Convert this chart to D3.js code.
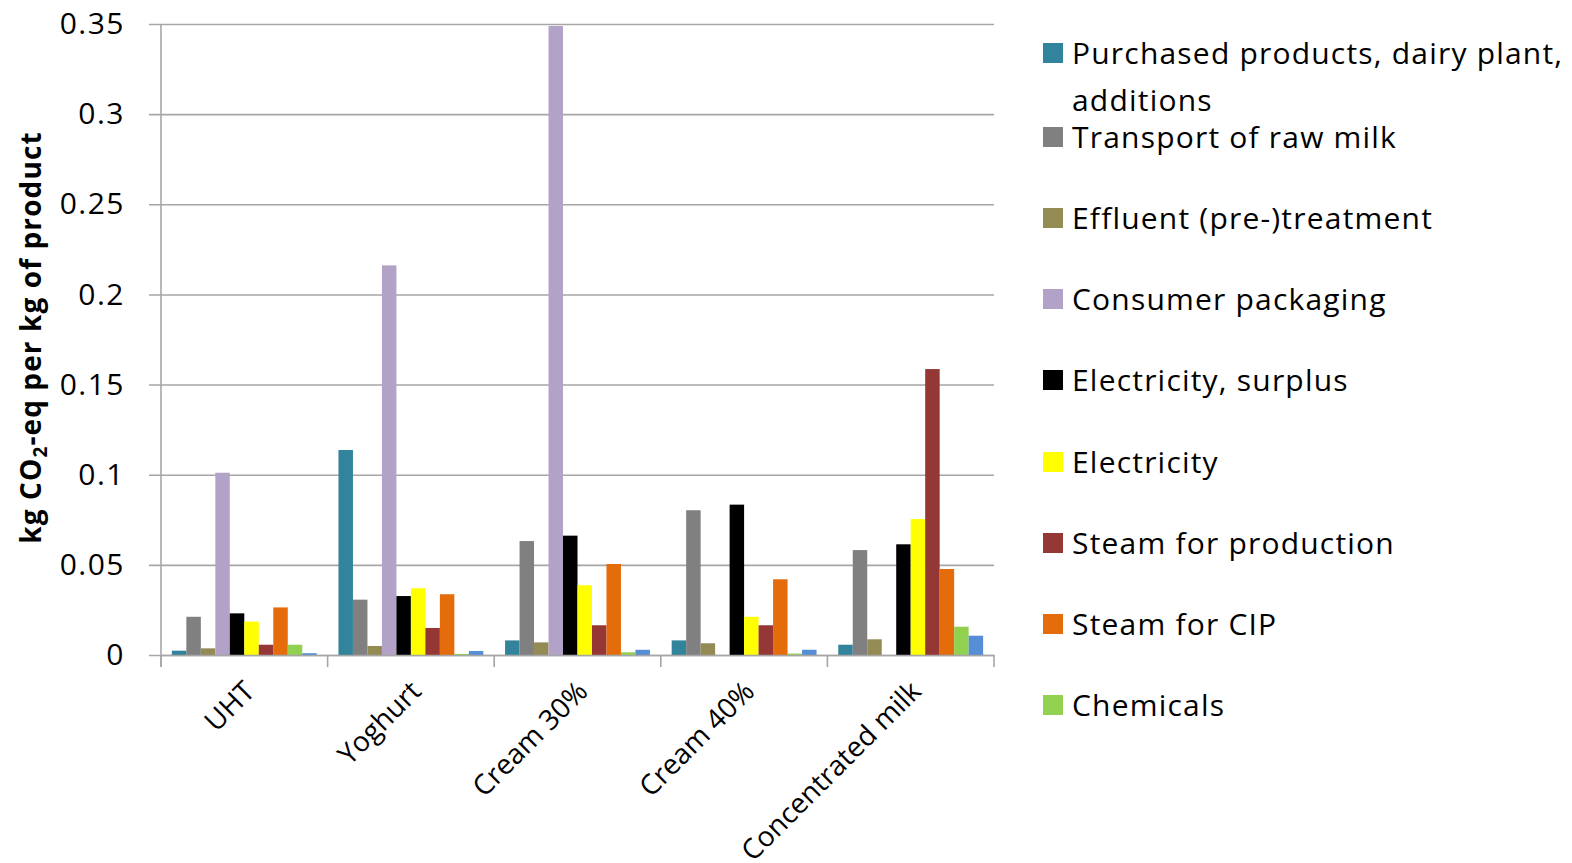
<!DOCTYPE html>
<html>
<head>
<meta charset="utf-8">
<script src="https://cdn.jsdelivr.net/npm/d3@7"></script>
<style>
  html, body { margin: 0; padding: 0; background: #fff; }
  svg { display: block; }
  text { font-family: "Open Sans", Lato, sans-serif; fill: #000; }
</style>
</head>
<body>
<svg id="chart" width="1572" height="863"></svg>
<script>
// Product categories along the x axis
const categories = ["UHT", "Yoghurt", "Cream 30%", "Cream 40%", "Concentrated milk"];

// Emission sources (series), in drawing order
const seriesNames = [
  "Purchased products, dairy plant, additions",
  "Transport of raw milk",
  "Effluent (pre-)treatment",
  "Consumer packaging",
  "Electricity, surplus",
  "Electricity",
  "Steam for production",
  "Steam for CIP",
  "Chemicals",
  "Other"
];

const seriesColors = [
  "#31849B", "#808080", "#948A54", "#B3A2C7", "#000000",
  "#FFFF00", "#953735", "#E46C0A", "#92D050", "#558ED5"
];

// kg CO2-eq per kg of product, one array per series (UHT, Yoghurt, Cream 30%, Cream 40%, Concentrated milk)
const purchased   = [0.0024, 0.1137, 0.0081, 0.0081, 0.0057];
const transport   = [0.0212, 0.0307, 0.0632, 0.0803, 0.0582];
const effluent    = [0.0037, 0.0050, 0.0070, 0.0065, 0.0087];
const packaging   = [0.1011, 0.2161, 0.3489, 0.0000, 0.0000];
const elecSurplus = [0.0231, 0.0327, 0.0662, 0.0834, 0.0614];
const electricity = [0.0185, 0.0370, 0.0387, 0.0212, 0.0754];
const steamProd   = [0.0057, 0.0150, 0.0165, 0.0165, 0.1586];
const steamCIP    = [0.0264, 0.0337, 0.0505, 0.0420, 0.0477];
const chemicals   = [0.0057, 0.0006, 0.0015, 0.0008, 0.0157];
const other       = [0.0010, 0.0022, 0.0029, 0.0029, 0.0107];

const seriesValues = [purchased, transport, effluent, packaging, elecSurplus,
                      electricity, steamProd, steamCIP, chemicals, other];

// Y axis ticks
const yTicks = [0, 0.05, 0.1, 0.15, 0.2, 0.25, 0.3, 0.35];
const yTickLabels = ["0", "0.05", "0.1", "0.15", "0.2", "0.25", "0.3", "0.35"];

// Legend entries (the last series has no legend entry)
const legendLabels = [
  ["Purchased products, dairy plant,", "additions"],
  ["Transport of raw milk"],
  ["Effluent (pre-)treatment"],
  ["Consumer packaging"],
  ["Electricity, surplus"],
  ["Electricity"],
  ["Steam for production"],
  ["Steam for CIP"],
  ["Chemicals"]
];

const svg = d3.select("#chart");
const plot = { left: 161, right: 994, top: 24, bottom: 655 };
const gridColor = "#A6A6A6";

const x0 = d3.scaleBand().domain(categories).range([plot.left, plot.right])
  .paddingInner(0).paddingOuter(0);
const x1 = d3.scaleBand().domain(d3.range(seriesNames.length))
  .range([0, x0.bandwidth()]).paddingInner(0).paddingOuter(0.75);
const y = d3.scaleLinear().domain([0, 0.35]).range([plot.bottom, plot.top]);

// Horizontal gridlines with short outside ticks
const yAxis = d3.axisLeft(y).tickValues(yTicks)
  .tickFormat((d, i) => yTickLabels[i])
  .tickSize(-(plot.right - plot.left)).tickSizeOuter(0).tickPadding(36);
const gy = svg.append("g").attr("transform", `translate(${plot.left},0)`).call(yAxis);
gy.select(".domain").remove();
gy.selectAll(".tick line").attr("x1", -12).attr("stroke", gridColor).attr("stroke-width", 1.6);
gy.selectAll(".tick text")
  .attr("font-size", 30).attr("font-family", "Open Sans")
  .attr("letter-spacing", 1.5).attr("fill", "#000");

// Vertical axis line
svg.append("line")
  .attr("x1", plot.left).attr("x2", plot.left)
  .attr("y1", plot.top).attr("y2", plot.bottom + 12)
  .attr("stroke", gridColor).attr("stroke-width", 1.6);

// Bars
const groups = svg.append("g").selectAll("g")
  .data(categories)
  .join("g")
  .attr("transform", d => `translate(${x0(d)},0)`);

groups.selectAll("rect")
  .data((c, ci) => seriesValues.map((vals, si) => ({ si, v: vals[ci] })))
  .join("rect")
  .attr("x", d => x1(d.si))
  .attr("width", x1.bandwidth())
  .attr("y", d => y(d.v))
  .attr("height", d => y(0) - y(d.v))
  .attr("fill", d => seriesColors[d.si]);

// Category axis with ticks between groups
const xAxis = d3.axisBottom(x0).tickSize(0).tickFormat("");
const gx = svg.append("g").attr("transform", `translate(0,${plot.bottom})`).call(xAxis);
gx.select(".domain").attr("stroke", gridColor).attr("stroke-width", 1.6);
const boundaries = categories.map(c => x0(c)).concat([x0(categories[categories.length - 1]) + x0.bandwidth()]);
svg.append("g").selectAll("line")
  .data(boundaries)
  .join("line")
  .attr("x1", d => d).attr("x2", d => d)
  .attr("y1", plot.bottom).attr("y2", plot.bottom + 12)
  .attr("stroke", gridColor).attr("stroke-width", 1.6);

// Rotated category labels
svg.append("g").selectAll("text")
  .data(categories)
  .join("text")
  .attr("transform", d => `translate(${x0(d) + x0.bandwidth() / 2 + 12},${plot.bottom + 38}) rotate(-45)`)
  .attr("text-anchor", "end")
  .attr("font-size", 28)
  .text(d => d);

// Y axis title with subscript
const yTitle = svg.append("text")
  .attr("transform", `translate(41,${(plot.top + plot.bottom) / 2 - 2}) rotate(-90)`)
  .attr("text-anchor", "middle")
  .attr("font-size", 28)
  .attr("letter-spacing", 1.1)
  .attr("font-weight", "bold");
yTitle.append("tspan").text("kg CO");
yTitle.append("tspan").attr("font-size", 19).attr("dy", 6).text("2");
yTitle.append("tspan").attr("dy", -6).text("-eq per kg of product");

// Legend
const legendX = 1043;
const legendRowY = [53, 137, 218, 299, 380, 462, 543, 624, 705];
const legend = svg.append("g");
legendLabels.forEach((lines, i) => {
  const cy = legendRowY[i];
  legend.append("rect")
    .attr("x", legendX).attr("y", cy - 10)
    .attr("width", 20).attr("height", 20)
    .attr("fill", seriesColors[i]);
  lines.forEach((line, li) => {
    legend.append("text")
      .attr("x", legendX + 29)
      .attr("y", cy + li * 47)
      .attr("dy", "0.35em")
      .attr("font-size", 30)
      .attr("letter-spacing", 1.2)
      .text(line);
  });
});
</script>
</body>
</html>
